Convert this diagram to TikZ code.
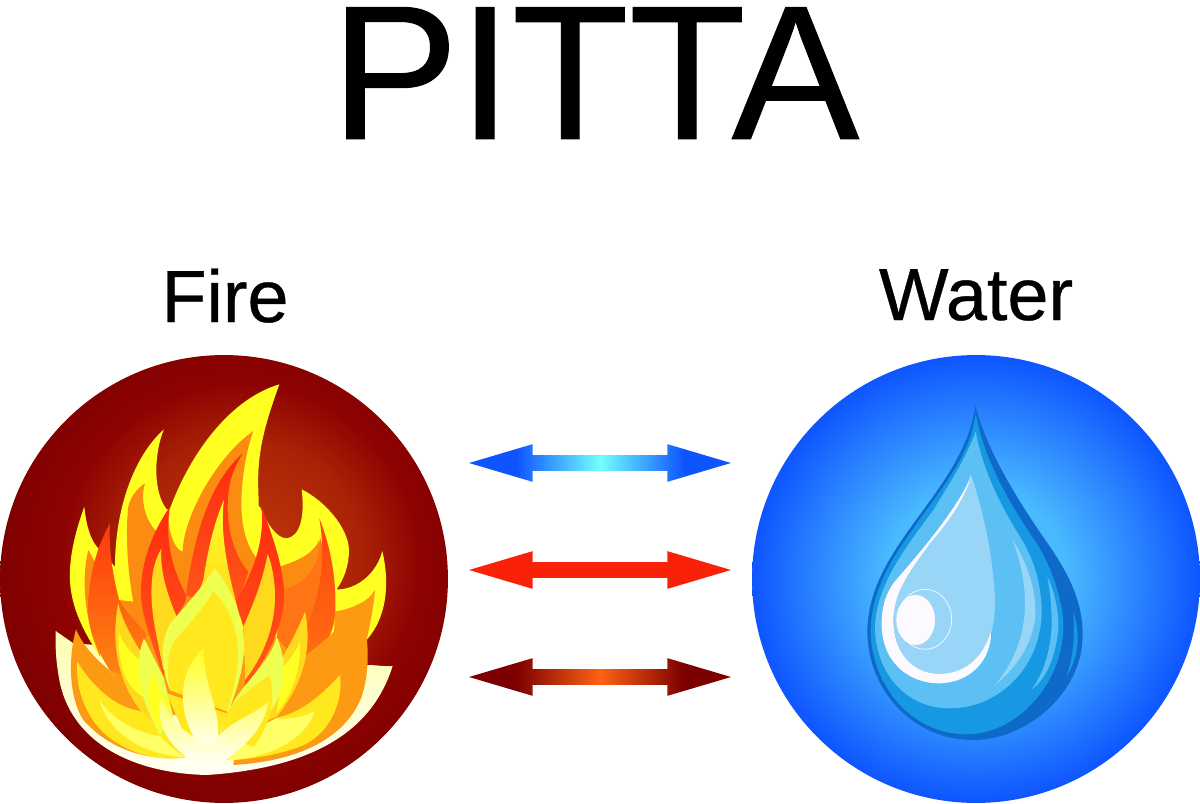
\documentclass[tikz,border=0pt]{standalone}
\usepackage{fontspec}
\setmainfont[FakeBold=0.4]{Liberation Sans}
\newfontfamily\heavyfont[FakeBold=0.5]{Liberation Sans}
\usetikzlibrary{shapes.arrows, positioning}

\definecolor{emberOut}{HTML}{7C0000}
\definecolor{emberMid}{HTML}{8E0302}
\definecolor{emberIn}{HTML}{BE3808}
\definecolor{seaOut}{HTML}{0E55FF}
\definecolor{seaIn}{HTML}{4ABAFF}
\definecolor{flYellow}{HTML}{FFFF22}
\definecolor{flOrange}{HTML}{FC8B12}
\definecolor{flDeep}{HTML}{FF7414}
\definecolor{flAmber}{HTML}{FC9A14}
\definecolor{flRed}{HTML}{FF2A10}
\definecolor{flRust}{HTML}{FF5A18}
\definecolor{flGold}{HTML}{FFD91E}
\definecolor{flSun}{HTML}{FFE81E}
\definecolor{flLemon}{HTML}{EEFF50}
\definecolor{flPale}{HTML}{FFFF66}
\definecolor{flBase}{HTML}{FDFDB0}
\definecolor{flCream}{HTML}{FFFFF4}
\definecolor{flowRed}{HTML}{F92209}
\definecolor{dropDark}{HTML}{0F69C9}
\definecolor{dropMid}{HTML}{1699E2}
\definecolor{dropLight}{HTML}{5DC0F5}
\definecolor{dropPale}{HTML}{98D5F7}
\definecolor{dropWhite}{HTML}{FCFAFE}

\pgfdeclareradialshading{fireball}{\pgfqpoint{3bp}{3bp}}{color(0bp)=(emberIn); color(13bp)=(emberIn!60!emberMid); color(20bp)=(emberMid); color(28bp)=(emberOut); color(50bp)=(emberOut)}
\pgfdeclareradialshading{waterball}{\pgfpointorigin}{color(0bp)=(seaIn); color(10bp)=(seaIn); color(25bp)=(seaOut); color(50bp)=(seaOut)}
\pgfdeclarehorizontalshading{coolarrow}{100bp}{color(0bp)=(seaOut); color(34bp)=(seaOut); color(50bp)=(cyan!55!white); color(66bp)=(seaOut); color(100bp)=(seaOut)}
\pgfdeclarehorizontalshading{emberarrow}{100bp}{color(0bp)=(emberOut); color(34bp)=(emberOut); color(50bp)=(flRust!80!orange); color(66bp)=(emberOut); color(100bp)=(emberOut)}

\begin{document}
\begin{tikzpicture}[x=0.02cm, y=-0.02cm]
    \tikzstyle{big} = [font=\fontsize{109}{109}\heavyfont, anchor=base, inner sep=0pt]
    \tikzstyle{word} = [font=\fontsize{42}{42}\heavyfont, anchor=base, inner sep=0pt]
    \tikzstyle{disc} = [circle, minimum size=8.96cm, inner sep=0pt]
    \tikzstyle{flow} = [double arrow, text height=0.3cm, text depth=0pt, text width=0pt, minimum height=5.24cm, inner sep=0pt,
                        double arrow head extend=0.22cm, double arrow tip angle=33]

    \useasboundingbox (0,0) rectangle (1200,804);

    \node (title) [big]  at (595,139) {PITTA};
    \node (fire)  [word] at (225,322) {Fire};
    \node (water) [word] at (976,320) {Water};

    \node (firedisc)  [disc, shading=fireball]  at (224,579) {};
    \node (waterdisc) [disc, shading=waterball] at (976,579) {};

    \node (cool) [flow, shading=coolarrow]  at (600,463) {};
    \node (hot)  [flow, fill=flowRed] at (600,570) {};
    \node (warm) [flow, shading=emberarrow] at (600,677) {};

    % flame, in the 3x crop coordinates
    \begin{scope}[shift={(0,350)}, x=0.00667cm, y=-0.00667cm]
        \shade[top color=flBase, bottom color=flCream] (167,843) -- (220,880) -- (1100,945) .. controls (1130,945) and (1150,950) .. (1178,948) .. controls (1130,1100) and (1000,1250) .. (620,1275) .. controls (400,1270) and (220,1180) .. (180,1000) .. controls (170,950) and (165,900) .. (167,843) -- cycle;
        \fill[flYellow] (300,920) .. controls (240,830) and (205,750) .. (210,660) .. controls (213,590) and (235,520) .. (253,470) .. controls (258,520) and (270,570) .. (295,595) -- (345,650) .. controls (345,480) and (400,320) .. (492,238) .. controls (465,300) and (455,420) .. (500,478) -- (780,470) .. controls (800,520) and (830,565) .. (860,565) .. controls (900,560) and (915,500) .. (905,418) .. controls (970,450) and (1045,530) .. (1047,600) .. controls (1047,650) and (1030,690) .. (1010,718) .. controls (1070,720) and (1130,670) .. (1147,603) .. controls (1165,680) and (1170,790) .. (1100,870) -- (800,900) -- cycle;
        \fill[flAmber] (330,960) -- (440,850) -- (840,860) -- (1000,900) -- (1085,1040) -- (830,1110) -- (420,1090) -- cycle;
        \fill[flOrange] (265,600) .. controls (245,680) and (250,800) .. (300,920) -- (320,700) -- cycle;
        \fill[flOrange] (400,755) .. controls (385,680) and (375,560) .. (385,470) .. controls (395,430) and (420,410) .. (435,400) .. controls (420,450) and (435,510) .. (470,545) -- (520,470) -- (600,800) -- (440,860) .. controls (400,820) and (370,790) .. (355,750) -- cycle;
        \fill[flOrange] (840,650) .. controls (900,630) and (940,610) .. (958,570) -- (1000,800) -- (840,870) -- cycle;
        \fill[flDeep] (850,720) .. controls (920,700) and (960,650) .. (960,560) -- (1005,750) -- (930,980) -- (830,860) -- cycle;
        \shade[top color=flRed!70!orange, bottom color=flDeep] (958,505) .. controls (1005,620) and (1010,740) .. (1005,800) .. controls (995,870) and (950,930) .. (920,990) -- (880,900) .. controls (975,760) and (975,600) .. (958,505) -- cycle;
        \fill[flAmber] (1005,785) .. controls (1060,775) and (1105,755) .. (1125,720) .. controls (1120,780) and (1110,820) .. (1100,870) -- (1000,900) -- cycle;
        \fill[flAmber] (1075,760) .. controls (1105,830) and (1115,950) .. (1085,1040) .. controls (1050,1130) and (950,1230) .. (700,1245) -- (740,990) .. controls (850,980) and (1000,870) .. (1075,760) -- cycle;
        \fill[flSun] (1020,975) .. controls (1030,1040) and (1000,1150) .. (900,1190) .. controls (830,1215) and (750,1230) .. (680,1230) -- (830,1103) .. controls (900,1090) and (960,1040) .. (1020,975) -- cycle;
        \fill[flPale] (943,1085) .. controls (930,1140) and (850,1220) .. (680,1232) .. controls (720,1200) and (760,1130) .. (830,1105) .. controls (870,1110) and (910,1100) .. (943,1085) -- cycle;
        \fill[flAmber] (228,838) .. controls (250,890) and (290,930) .. (330,962) -- (420,1080) -- (555,1222) .. controls (430,1235) and (320,1190) .. (250,1110) .. controls (205,1040) and (205,920) .. (228,838) -- cycle;
        \shade[top color=flRed!85!orange, bottom color=flOrange] (330,520) .. controls (280,610) and (265,700) .. (265,780) .. controls (265,840) and (285,890) .. (330,962) -- (440,1000) -- (437,850) .. controls (395,800) and (355,760) .. (355,740) .. controls (340,680) and (325,600) .. (330,520) -- cycle;
        \fill[flSun] (232,935) .. controls (225,1020) and (260,1110) .. (330,1165) .. controls (400,1215) and (480,1235) .. (555,1222) -- (480,1100) -- (415,1082) .. controls (340,1070) and (270,1000) .. (232,935) -- cycle;
        \fill[flPale] (298,1050) .. controls (320,1130) and (400,1210) .. (555,1222) .. controls (510,1190) and (490,1170) .. (480,1158) .. controls (410,1150) and (340,1110) .. (298,1050) -- cycle;
        \fill[flGold] (355,760) .. controls (335,860) and (345,980) .. (420,1080) -- (480,1140) -- (450,950) .. controls (420,900) and (370,830) .. (355,760) -- cycle;
        \fill[flYellow] (358,850) .. controls (350,920) and (370,1010) .. (430,1040) -- (450,960) .. controls (420,930) and (375,900) .. (358,850) -- cycle;
        \fill[flYellow] (505,490) .. controls (560,330) and (680,150) .. (838,103) .. controls (800,210) and (770,300) .. (775,420) -- (780,600) -- (548,605) .. controls (520,595) and (505,540) .. (505,490) -- cycle;
        \fill[flOrange] (548,605) .. controls (550,500) and (650,320) .. (760,243) .. controls (735,310) and (720,420) .. (725,490) .. controls (730,560) and (750,600) .. (770,625) -- (750,800) -- (560,800) -- cycle;
        \shade[top color=flRed, bottom color=flRust] (728,310) .. controls (650,380) and (590,500) .. (558,735) -- (700,800) -- (745,665) .. controls (695,610) and (670,500) .. (690,400) .. controls (695,370) and (710,340) .. (728,310) -- cycle;
        \shade[top color=flYellow, bottom color=flGold] (672,450) .. controls (640,520) and (620,620) .. (610,690) -- (580,770) -- (720,770) -- (708,755) .. controls (680,650) and (660,540) .. (672,450) -- cycle;
        \shade[top color=flRed, bottom color=flRust] (510,470) .. controls (440,570) and (415,680) .. (425,760) .. controls (435,830) and (465,900) .. (490,980) -- (530,800) .. controls (555,760) and (560,750) .. (558,735) .. controls (530,680) and (490,590) .. (510,470) -- cycle;
        \fill[flGold] (484,597) .. controls (450,650) and (445,740) .. (470,860) -- (490,960) -- (530,800) .. controls (500,730) and (480,660) .. (484,597) -- cycle;
        \shade[top color=flRed, bottom color=flRust] (785,470) .. controls (810,540) and (850,640) .. (852,730) .. controls (855,820) and (800,930) .. (735,1010) -- (730,830) -- (708,755) .. controls (750,680) and (795,590) .. (785,470) -- cycle;
        \fill[flGold] (803,612) .. controls (790,680) and (770,740) .. (730,830) -- (735,990) .. controls (790,920) and (825,830) .. (825,740) .. controls (825,690) and (815,640) .. (803,612) -- cycle;
        \fill[flGold] (915,785) .. controls (935,880) and (920,990) .. (830,1100) -- (760,1130) -- (800,1000) .. controls (850,920) and (890,850) .. (915,785) -- cycle;
        \fill[flYellow] (900,875) .. controls (905,950) and (880,1030) .. (830,1090) -- (850,950) .. controls (870,930) and (890,900) .. (900,875) -- cycle;
        % middle of the flame
        \fill[flLemon] (645,655) .. controls (600,720) and (570,750) .. (520,810) .. controls (480,850) and (480,950) .. (510,1020) -- (685,1085) .. controls (720,1000) and (745,900) .. (725,830) .. controls (715,760) and (680,700) .. (645,655) -- cycle;
        \fill[flSun] (640,725) .. controls (600,790) and (560,830) .. (525,870) .. controls (500,910) and (500,960) .. (510,1020) -- (680,1085) .. controls (710,1000) and (725,900) .. (705,840) .. controls (695,790) and (665,750) .. (640,725) -- cycle;
        \fill[flLemon] (432,865) .. controls (405,930) and (405,1020) .. (480,1155) -- (520,1100) -- (490,980) .. controls (465,930) and (445,890) .. (432,865) -- cycle;
        \fill[flYellow] (460,965) .. controls (435,1010) and (440,1080) .. (480,1140) -- (510,1060) -- (485,1030) .. controls (475,1010) and (465,990) .. (460,965) -- cycle;
        \fill[flLemon] (830,860) .. controls (815,920) and (770,960) .. (710,1040) -- (680,1090) -- (760,1140) .. controls (850,1060) and (875,970) .. (830,860) -- cycle;
        \fill[flSun] (808,975) .. controls (780,1000) and (720,1030) .. (680,1090) -- (660,1160) -- (760,1190) .. controls (810,1130) and (830,1040) .. (808,975) -- cycle;
        \fill[flSun] (500,1030) -- (680,1090) -- (655,1170) -- (560,1170) -- cycle;
        \shade[top color=flPale, bottom color=flCream] (485,1040) .. controls (465,1100) and (490,1170) .. (560,1222) .. controls (600,1235) and (640,1235) .. (670,1225) .. controls (750,1190) and (800,1110) .. (805,1055) .. controls (770,1090) and (700,1110) .. (655,1158) -- (580,1160) .. controls (530,1130) and (500,1090) .. (485,1040) -- cycle;
        \shade[top color=flYellow, middle color=flYellow!70!flCream, bottom color=flCream] (610,895) .. controls (610,1000) and (660,1080) .. (655,1158) .. controls (650,1190) and (600,1195) .. (580,1160) .. controls (530,1060) and (540,960) .. (610,895) -- cycle;
    \end{scope}

    % drop
    \begin{scope}[shift={(750,350)}, x=0.00667cm, y=-0.00667cm]
        \fill[dropDark] (677,165) .. controls (700,280) and (800,450) .. (900,590) .. controls (960,680) and (1000,760) .. (998,860) .. controls (995,1030) and (830,1170) .. (670,1170) .. controls (480,1170) and (350,1010) .. (352,840) .. controls (355,700) and (440,590) .. (520,480) .. controls (600,370) and (660,280) .. (677,165) -- cycle;
        \fill[dropMid] (677,190) .. controls (700,320) and (770,450) .. (860,580) .. controls (910,660) and (940,760) .. (940,830) .. controls (940,1000) and (800,1153) .. (650,1153) .. controls (480,1153) and (362,1000) .. (362,840) .. controls (365,700) and (450,590) .. (530,480) .. controls (610,370) and (665,290) .. (677,190) -- cycle;
        \fill[dropLight] (677,245) .. controls (700,370) and (760,480) .. (810,560) .. controls (860,640) and (875,720) .. (875,790) .. controls (870,960) and (740,1075) .. (600,1075) .. controls (460,1075) and (375,960) .. (375,830) .. controls (380,700) and (470,590) .. (550,480) .. controls (600,400) and (650,320) .. (677,245) -- cycle;
        \fill[dropPale] (662,372) .. controls (720,540) and (735,700) .. (735,760) .. controls (735,880) and (680,970) .. (570,975) .. controls (470,975) and (430,880) .. (430,810) .. controls (430,720) and (480,650) .. (540,570) .. controls (600,500) and (640,440) .. (662,372) -- cycle;
        \fill[dropWhite] (662,385) .. controls (600,510) and (480,640) .. (430,700) .. controls (395,750) and (395,800) .. (395,830) .. controls (400,950) and (490,1000) .. (565,1000) .. controls (660,1000) and (725,930) .. (723,845) .. controls (700,920) and (650,970) .. (570,972) .. controls (480,972) and (430,900) .. (430,810) .. controls (430,720) and (490,650) .. (540,580) .. controls (600,510) and (640,450) .. (662,385) -- cycle;
        \draw[dropWhite, line width=0.4pt] (525,808) ellipse [x radius=80, y radius=90];
        \fill[dropWhite] (497,810) ellipse [x radius=58, y radius=75];
        \fill[dropPale] (787,568) .. controls (850,670) and (860,750) .. (855,810) .. controls (840,900) and (790,960) .. (735,1005) .. controls (800,930) and (825,840) .. (825,760) .. controls (825,690) and (810,630) .. (787,568) -- cycle;
        \fill[dropLight] (892,680) .. controls (920,740) and (927,800) .. (925,840) .. controls (915,930) and (885,990) .. (845,1018) .. controls (890,960) and (905,870) .. (905,820) .. controls (905,770) and (900,720) .. (892,680) -- cycle;
        \fill[dropMid] (970,785) .. controls (985,830) and (985,870) .. (980,900) .. controls (975,930) and (965,955) .. (950,978) .. controls (970,920) and (975,860) .. (970,785) -- cycle;
    \end{scope}
\end{tikzpicture}
\end{document}
